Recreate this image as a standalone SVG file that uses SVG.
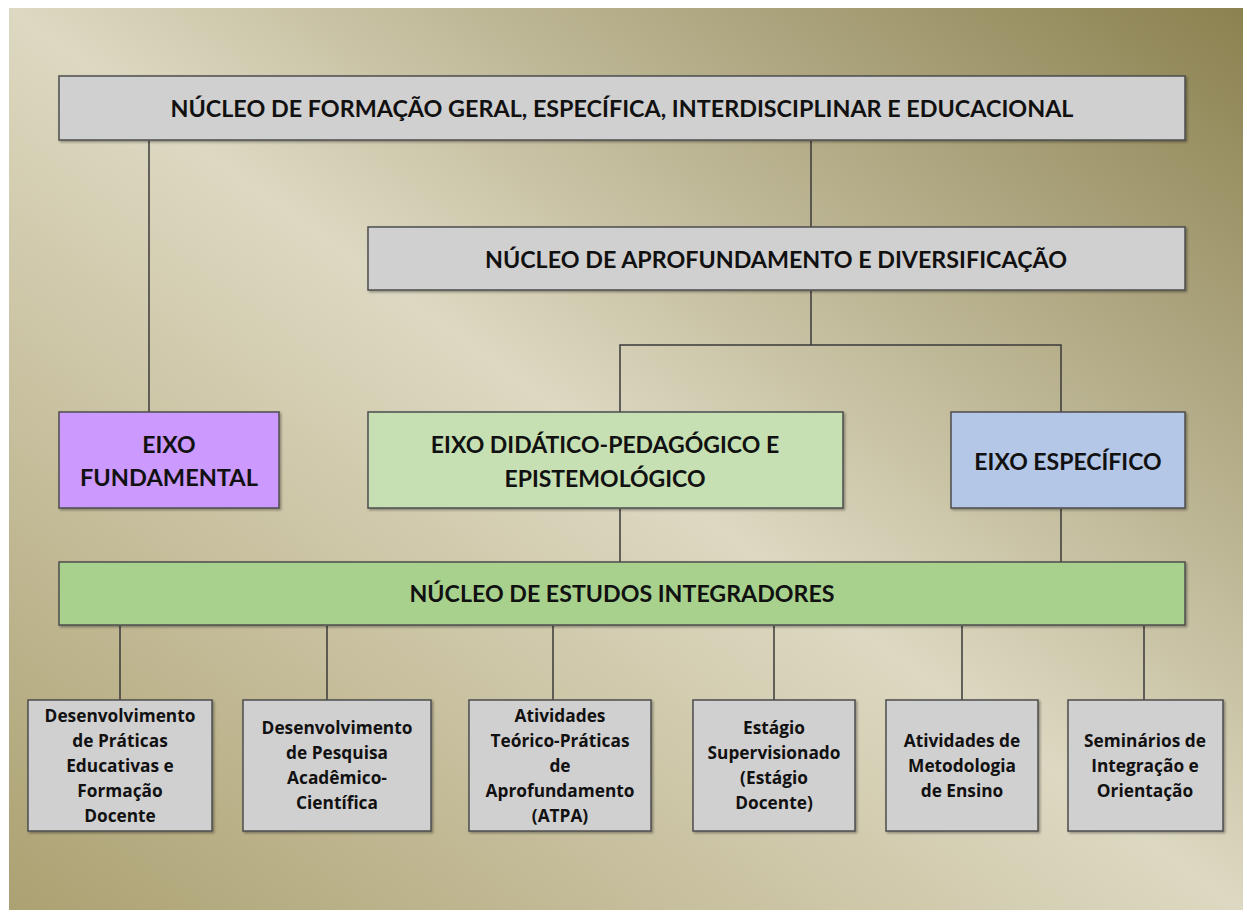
<svg xmlns="http://www.w3.org/2000/svg" width="1247" height="915" viewBox="0 0 1247 915">
<defs>
<linearGradient id="bg" x1="0" y1="1" x2="1" y2="0">
<stop offset="0" stop-color="#aca172"/>
<stop offset="0.5" stop-color="#ddd8c1"/>
<stop offset="1" stop-color="#8b8150"/>
</linearGradient>
<filter id="sh" x="-5%" y="-5%" width="110%" height="120%">
<feDropShadow dx="1.5" dy="1.5" stdDeviation="1.2" flood-color="#000" flood-opacity="0.35"/>
</filter>
</defs>
<style>
.box{stroke:#4d4d4d;stroke-width:1.5;filter:url(#sh)}
.gray{fill:#d1d0d1}
.t{font-family:Lato,"Open Sans","Liberation Sans",sans-serif;font-weight:700;fill:#111;text-anchor:middle}
.big{font-size:23px}
.sm{font-family:"Open Sans",Lato,"Liberation Sans",sans-serif;font-size:17.3px}
.c{stroke:#3a3a3a;stroke-width:1.5;fill:none}
</style>
<rect x="0" y="0" width="1247" height="915" fill="#fff"/>
<rect x="9" y="8" width="1234" height="902" fill="url(#bg)"/>
<g id="connectors">
<path class="c" d="M149 141V412"/>
<path class="c" d="M811 141V227"/>
<path class="c" d="M811 291V345"/>
<path class="c" d="M620 412V345H1061V412"/>
<path class="c" d="M620 509V562M1061 509V562"/>
<path class="c" d="M120 626V700M327 626V700M553 626V700M774 626V700M962 626V700M1144 626V700"/>
</g>
<g id="n1"><rect class="box gray" x="59" y="76" width="1126" height="64"/>
<text class="t big" x="622" y="117" textLength="903" lengthAdjust="spacingAndGlyphs">NÚCLEO DE FORMAÇÃO GERAL, ESPECÍFICA, INTERDISCIPLINAR E EDUCACIONAL</text></g>
<g id="n2"><rect class="box gray" x="368" y="227" width="817" height="63"/>
<text class="t big" x="776" y="268" textLength="582" lengthAdjust="spacingAndGlyphs">NÚCLEO DE APROFUNDAMENTO E DIVERSIFICAÇÃO</text></g>
<g id="n3"><rect class="box" fill="#cc99fe" x="59" y="412" width="220" height="96"/>
<text class="t big" x="169" y="453">EIXO</text>
<text class="t big" x="169" y="486" textLength="178" lengthAdjust="spacingAndGlyphs">FUNDAMENTAL</text></g>
<g id="n4"><rect class="box" fill="#c6e0b4" x="368" y="412" width="475" height="96"/>
<text class="t big" x="605" y="453">EIXO DIDÁTICO-PEDAGÓGICO E</text>
<text class="t big" x="605" y="487">EPISTEMOLÓGICO</text></g>
<g id="n5"><rect class="box" fill="#b4c7e7" x="951" y="412" width="234" height="96"/>
<text class="t big" x="1068" y="470">EIXO ESPECÍFICO</text></g>
<g id="n6"><rect class="box" fill="#a9d18e" x="59" y="562" width="1126" height="63"/>
<text class="t big" x="622" y="602" textLength="425" lengthAdjust="spacingAndGlyphs">NÚCLEO DE ESTUDOS INTEGRADORES</text></g>
<g id="b1"><rect class="box gray" x="28" y="700" width="184" height="131"/>
<text class="t sm" x="120" y="722">Desenvolvimento</text>
<text class="t sm" x="120" y="747">de Práticas</text>
<text class="t sm" x="120" y="772">Educativas e</text>
<text class="t sm" x="120" y="797">Formação</text>
<text class="t sm" x="120" y="822">Docente</text></g>
<g id="b2"><rect class="box gray" x="243" y="700" width="188" height="131"/>
<text class="t sm" x="337" y="734">Desenvolvimento</text>
<text class="t sm" x="337" y="759">de Pesquisa</text>
<text class="t sm" x="337" y="784">Acadêmico-</text>
<text class="t sm" x="337" y="809">Científica</text></g>
<g id="b3"><rect class="box gray" x="469" y="700" width="182" height="131"/>
<text class="t sm" x="560" y="722">Atividades</text>
<text class="t sm" x="560" y="747">Teórico-Práticas</text>
<text class="t sm" x="560" y="772">de</text>
<text class="t sm" x="560" y="797">Aprofundamento</text>
<text class="t sm" x="560" y="822">(ATPA)</text></g>
<g id="b4"><rect class="box gray" x="693" y="700" width="162" height="131"/>
<text class="t sm" x="774" y="734">Estágio</text>
<text class="t sm" x="774" y="759">Supervisionado</text>
<text class="t sm" x="774" y="784">(Estágio</text>
<text class="t sm" x="774" y="809">Docente)</text></g>
<g id="b5"><rect class="box gray" x="886" y="700" width="152" height="131"/>
<text class="t sm" x="962" y="747">Atividades de</text>
<text class="t sm" x="962" y="772">Metodologia</text>
<text class="t sm" x="962" y="797">de Ensino</text></g>
<g id="b6"><rect class="box gray" x="1068" y="700" width="155" height="131"/>
<text class="t sm" x="1145" y="747">Seminários de</text>
<text class="t sm" x="1145" y="772">Integração e</text>
<text class="t sm" x="1145" y="797">Orientação</text></g>
</svg>
